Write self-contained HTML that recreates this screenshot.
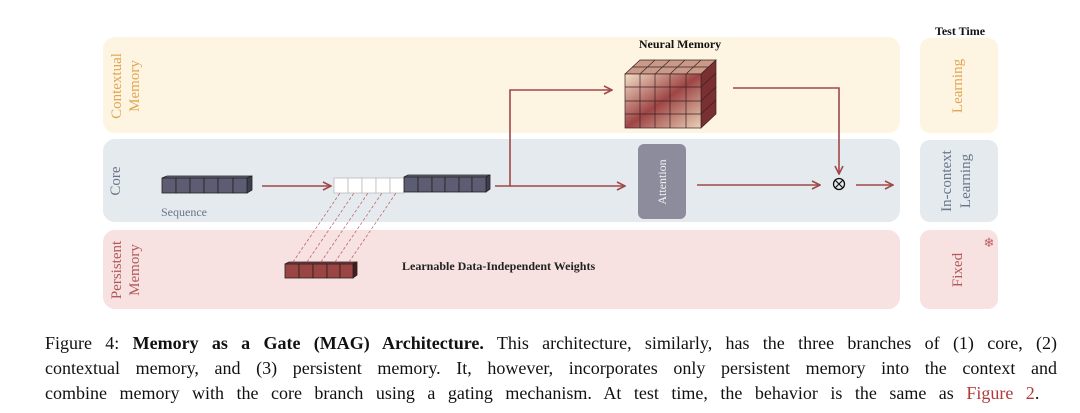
<!DOCTYPE html>
<html><head><meta charset="utf-8"><style>
body{margin:0;width:1080px;height:413px;background:#fff;overflow:hidden;position:relative;font-family:"Liberation Serif",serif}
svg{position:absolute;left:0;top:0}
.cap{position:absolute;left:45px;top:331px;width:1012px;font-size:18px;line-height:25px;color:#111}
.cap div{text-align:justify;text-align-last:justify;height:25px;overflow:visible}
.cap div.l3{text-align-last:left;word-spacing:8px}
</style></head><body>
<svg width="1080" height="413" viewBox="0 0 1080 413" font-family="Liberation Serif, serif">
<defs>
<marker id="a" markerWidth="10" markerHeight="10" refX="9" refY="5" orient="auto" markerUnits="userSpaceOnUse"><path d="M1,1 L9,5 L1,9" fill="none" stroke="#a04848" stroke-width="1.6"/></marker>
<linearGradient id="cg" x1="0" y1="0" x2="1" y2="1"><stop offset="0" stop-color="#f3e0c8"/><stop offset="0.5" stop-color="#9e4545"/><stop offset="1" stop-color="#e9d2b8"/></linearGradient>
</defs>
<rect x="103" y="37" width="797" height="96" rx="12" fill="#fdf5e1"/>
<rect x="103" y="139" width="797" height="83" rx="12" fill="#e4eaee"/>
<rect x="103" y="230" width="797" height="79" rx="12" fill="#f7e1e1"/>
<rect x="920" y="38" width="78" height="95" rx="10" fill="#fdf5e1"/>
<rect x="920" y="140" width="78" height="82" rx="10" fill="#e4eaee"/>
<rect x="920" y="230" width="78" height="79" rx="10" fill="#f7e1e1"/>
<g font-size="15" text-anchor="middle">
<text transform="translate(121,86) rotate(-90)" fill="#e0a550">Contextual</text>
<text transform="translate(139,86) rotate(-90)" fill="#e0a550">Memory</text>
<text transform="translate(120,181) rotate(-90)" fill="#6a7488">Core</text>
<text transform="translate(121,270) rotate(-90)" fill="#b05858">Persistent</text>
<text transform="translate(139,270) rotate(-90)" fill="#b05858">Memory</text>
<text transform="translate(962,86) rotate(-90)" fill="#e0a550">Learning</text>
<text transform="translate(951,181) rotate(-90)" fill="#6a7488">In-context</text>
<text transform="translate(970,181) rotate(-90)" fill="#6a7488">Learning</text>
<text transform="translate(962,270) rotate(-90)" fill="#b05858">Fixed</text>
</g>
<text x="989" y="247" font-size="13" fill="#c06060" text-anchor="middle">❄</text>
<text x="960" y="35" font-size="12" font-weight="bold" text-anchor="middle" fill="#111">Test Time</text>
<text x="680" y="48" font-size="12" font-weight="bold" text-anchor="middle" fill="#111">Neural Memory</text>
<text x="161" y="216" font-size="12" fill="#6a7488">Sequence</text>
<text x="402" y="270" font-size="12" font-weight="bold" fill="#222">Learnable Data-Independent Weights</text>
<g stroke="#222" stroke-width="0.8">
<polygon points="162,178 247,178 252,176 167,176" fill="#6a6a80"/>
<polygon points="247,178 252,176 252,190 247,193" fill="#3e3e52"/>
<g fill="#5c5c72"><rect x="162" y="178" width="14" height="15"/><rect x="176" y="178" width="14" height="15"/><rect x="190" y="178" width="14" height="15"/><rect x="204" y="178" width="14" height="15"/><rect x="218" y="178" width="15" height="15"/><rect x="233" y="178" width="14" height="15"/></g>
<g fill="#fff" stroke="#bbb"><rect x="334" y="178" width="14" height="15"/><rect x="348" y="178" width="14" height="15"/><rect x="362" y="178" width="14" height="15"/><rect x="376" y="178" width="14" height="15"/><rect x="390" y="178" width="14" height="15"/></g>
<polygon points="404,177 486,177 490,175 408,175" fill="#6a6a80"/>
<polygon points="486,177 490,175 490,189 486,192" fill="#3e3e52"/>
<g fill="#5c5c72"><rect x="404" y="177" width="14" height="15"/><rect x="418" y="177" width="14" height="15"/><rect x="432" y="177" width="13" height="15"/><rect x="445" y="177" width="14" height="15"/><rect x="459" y="177" width="13" height="15"/><rect x="472" y="177" width="14" height="15"/></g>
<polygon points="285,264 353,264 357,262 289,262" fill="#8a3a3a"/>
<polygon points="353,264 357,262 357,275 353,278" fill="#4a1a1a"/>
<g fill="#9a4444"><rect x="285" y="264" width="14" height="14"/><rect x="299" y="264" width="14" height="14"/><rect x="313" y="264" width="14" height="14"/><rect x="327" y="264" width="13" height="14"/><rect x="340" y="264" width="13" height="14"/></g>
</g>
<g stroke="#c06a6a" stroke-width="0.8" stroke-dasharray="3,2">
<line x1="293" y1="262" x2="340" y2="193"/><line x1="307" y1="262" x2="354" y2="193"/><line x1="321" y1="262" x2="368" y2="193"/><line x1="335" y1="262" x2="382" y2="193"/><line x1="349" y1="262" x2="396" y2="193"/>
</g>
<g stroke="#a04848" stroke-width="1.6" fill="none" marker-end="url(#a)">
<line x1="262" y1="186" x2="331" y2="186"/>
<polyline points="495,186 510,186 510,90 612,90"/>
<line x1="510" y1="186" x2="625" y2="186"/>
<line x1="697" y1="185" x2="820" y2="185"/>
<polyline points="733,88 839,88 839,174"/>
<line x1="856" y1="185" x2="893" y2="185"/>
</g>
<circle cx="839" cy="184" r="5.5" fill="none" stroke="#111" stroke-width="1.3"/>
<line x1="835" y1="180" x2="843" y2="188" stroke="#111" stroke-width="1.2"/><line x1="843" y1="180" x2="835" y2="188" stroke="#111" stroke-width="1.2"/>
<rect x="638" y="144" width="48" height="75" rx="6" fill="#8c8c9c"/>
<text transform="translate(666,182) rotate(-90)" font-size="12" fill="#f4f4f8" text-anchor="middle">Attention</text>
<g stroke="#3a2020" stroke-width="0.7">
<polygon points="625,74 640,60 716,60 701,74" fill="#c99a88"/>
<polygon points="701,74 716,60 716,114 701,128" fill="#7a3030"/>
<rect x="625" y="74" width="76" height="54" fill="url(#cg)"/>
<g fill="none"><line x1="640" y1="74" x2="640" y2="128"/><line x1="655" y1="74" x2="655" y2="128"/><line x1="670" y1="74" x2="670" y2="128"/><line x1="686" y1="74" x2="686" y2="128"/>
<line x1="625" y1="87" x2="701" y2="87"/><line x1="625" y1="101" x2="701" y2="101"/><line x1="625" y1="114" x2="701" y2="114"/>
<line x1="640" y1="74" x2="655" y2="60"/><line x1="655" y1="74" x2="670" y2="60"/><line x1="670" y1="74" x2="685" y2="60"/><line x1="686" y1="74" x2="701" y2="60"/>
<line x1="632" y1="67" x2="708" y2="67"/><line x1="701" y1="87" x2="716" y2="73"/><line x1="701" y1="101" x2="716" y2="87"/><line x1="701" y1="114" x2="716" y2="100"/></g>
</g>
</svg>
<div class="cap">
<div>Figure 4: <b>Memory as a Gate (MAG) Architecture.</b> This architecture, similarly, has the three branches of (1) core, (2)</div>
<div>contextual memory, and (3) persistent memory. It, however, incorporates only persistent memory into the context and</div>
<div class="l3">combine memory with the core branch using a gating mechanism. At test time, the behavior is the same as <span style="color:#b03a3a">Figure 2</span>.</div>
</div>
</body></html>
